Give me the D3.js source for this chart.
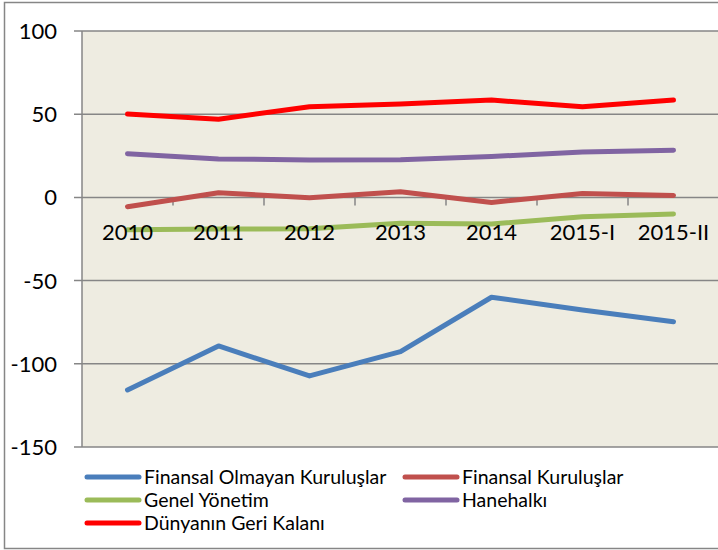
<!DOCTYPE html>
<html>
<head>
<meta charset="utf-8">
<script src="https://cdn.jsdelivr.net/npm/d3@7"></script>
<style>
    body { margin: 0; background: #fff; }
    svg { display: block; font-family: Lato, "Open Sans", sans-serif; }
    .grid { stroke: #868686; stroke-width: 1.5; }
    .tick-label { font-size: 22px; fill: #000; }
    .legend-label { font-size: 19.5px; fill: #000; }
    .series { fill: none; stroke-width: 5; stroke-linejoin: round; stroke-linecap: round; }
</style>
</head>
<body>
<svg width="718" height="550"></svg>
<script>
const categories = ['2010', '2011', '2012', '2013', '2014', '2015-I', '2015-II']
const yTicks = [100, 50, 0, -50, -100, -150]
const seriesNames =
    [ 'Finansal Olmayan Kuruluşlar'
    , 'Finansal Kuruluşlar'
    , 'Genel Yönetim'
    , 'Hanehalkı'
    , 'Dünyanın Geri Kalanı'
    ]
const seriesColors = ['#4a7ebb', '#c0504d', '#9bbb59', '#8064a2', '#ff0000']
const finansalOlmayan = [-115.7, -89.3, -107.3, -92.7, -60.0, -67.7, -74.7]
const finansal = [-5.6, 2.8, -0.2, 3.4, -3.0, 2.4, 1.2]
const genelYonetim = [-19.5, -19.0, -18.8, -15.6, -16.0, -11.6, -10.0]
const hanehalki = [26.3, 23.1, 22.5, 22.6, 24.6, 27.3, 28.4]
const dunyaninGeriKalani = [50.1, 47.0, 54.5, 56.2, 58.5, 54.5, 58.5]
const seriesValues = [finansalOlmayan, finansal, genelYonetim, hanehalki, dunyaninGeriKalani]

const width = 718
    , height = 550
    , plotLeft = 82
    , plotRight = 719
    , plotTop = 31
    , plotBottom = 447
    , scaleX = d3.scaleBand()
        .domain(categories)
        .range([plotLeft, plotRight])
        .padding(0)
    , scaleY = d3.scaleLinear()
        .domain([-150, 100])
        .range([plotBottom, plotTop])
    , centerX = c => scaleX(c) + scaleX.bandwidth() / 2
    , svg = d3.select('svg')

// chart frame
svg.append('rect')
    .attr('x', 4.5).attr('y', 2.5)
    .attr('width', width + 10).attr('height', 546)
    .attr('fill', '#fff')
    .attr('stroke', '#868686')
    .attr('stroke-width', 1.5)

// plot area
svg.append('rect')
    .attr('x', plotLeft).attr('y', plotTop)
    .attr('width', plotRight - plotLeft).attr('height', plotBottom - plotTop)
    .attr('fill', '#eeece1')

svg.selectAll('line.grid.y')
    .data(yTicks)
    .join('line')
    .attr('class', 'grid y')
    .attr('x1', plotLeft - 8)
    .attr('x2', plotRight)
    .attr('y1', scaleY)
    .attr('y2', scaleY)

svg.append('line')
    .attr('class', 'grid')
    .attr('x1', plotLeft).attr('x2', plotLeft)
    .attr('y1', plotTop).attr('y2', plotBottom)

// category ticks on the zero line
svg.selectAll('line.grid.x')
    .data(categories.slice(1))
    .join('line')
    .attr('class', 'grid x')
    .attr('x1', scaleX)
    .attr('x2', scaleX)
    .attr('y1', scaleY(0))
    .attr('y2', scaleY(0) + 8)

svg.selectAll('text.y-label')
    .data(yTicks)
    .join('text')
    .attr('class', 'tick-label y-label')
    .attr('x', 57)
    .attr('y', d => scaleY(d) + 8)
    .attr('text-anchor', 'end')
    .text(d => d)

const line = d3.line()
    .x((d, i) => centerX(categories[i]))
    .y(d => scaleY(d))

svg.selectAll('path.series')
    .data(seriesValues)
    .join('path')
    .attr('class', 'series')
    .attr('stroke', (d, i) => seriesColors[i])
    .attr('d', line)

// category labels sit over the lines, just under zero
svg.selectAll('text.x-label')
    .data(categories)
    .join('text')
    .attr('class', 'tick-label x-label')
    .attr('x', centerX)
    .attr('y', scaleY(0) + 43)
    .attr('text-anchor', 'middle')
    .text(d => d)

// legend
const legendPos = [[85, 477], [403, 477], [85, 500], [403, 500], [85, 523]]
const legend = svg.selectAll('g.legend')
    .data(seriesNames)
    .join('g')
    .attr('class', 'legend')
    .attr('transform', (d, i) => `translate(${legendPos[i]})`)
legend.append('line')
    .attr('x1', 2).attr('x2', 54)
    .attr('stroke', (d, i) => seriesColors[i])
    .attr('stroke-width', 5)
    .attr('stroke-linecap', 'round')
legend.append('text')
    .attr('class', 'legend-label')
    .attr('x', 59)
    .attr('y', 6.5)
    .text(d => d)
</script>
</body>
</html>
